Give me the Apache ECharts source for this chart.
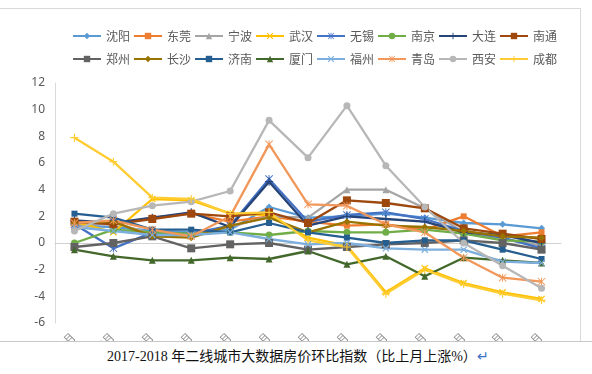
<!DOCTYPE html>
<html><head><meta charset="utf-8">
<script src="https://cdn.jsdelivr.net/npm/echarts@6/dist/echarts.min.js"></script>
<style>
html,body{margin:0;padding:0;background:#fff;width:592px;height:374px;overflow:hidden;}
#chart{position:absolute;left:0;top:0;width:592px;height:341px;}
#line{position:absolute;left:0;top:341px;width:592px;height:1px;background:#c8c8c8;}
#cap{position:absolute;left:107px;top:345px;font-family:"Liberation Serif","Noto Sans CJK SC",serif;font-size:14px;color:#111;white-space:nowrap;}
#cap span{color:#3a6fc4;}
</style></head><body>
<div id="chart"></div>
<div id="line"></div>
<div id="cap">2017-2018 年二线城市大数据房价环比指数（比上月上涨%）<span>↵</span></div>
<script>
const categories = ['2017年6月','2017年7月','2017年8月','2017年9月','2017年10月','2017年11月','2017年12月','2018年1月','2018年2月','2018年3月','2018年4月','2018年5月','2018年6月'];
const cityNames = ['沈阳','东莞','宁波','武汉','无锡','南京','大连','南通','郑州','长沙','济南','厦门','福州','青岛','西安','成都'];
const yTicks = {min:-6, max:12, interval:2};

const shenyang = [1.3, 1.2, 0.9, 0.8, 1.0, 2.7, 1.9, 2.0, 2.2, 1.9, 1.5, 1.4, 1.1];
const dongguan = [1.5, 1.4, 1.9, 2.2, 1.6, 2.0, 1.6, 1.3, 1.4, 1.0, 2.0, 0.5, 0.8];
const ningbo = [1.3, 1.5, 0.7, 0.7, 1.2, 2.0, 1.9, 4.0, 4.0, 2.6, 0.8, 0.3, -0.2];
const wuhan = [1.6, 0.8, 3.3, 3.2, 2.2, 2.1, 0.4, -0.2, -3.7, -1.9, -3.0, -3.7, -4.2];
const wuxi = [1.4, -0.4, 0.8, 0.7, 1.3, 4.8, 1.6, 2.1, 2.3, 1.8, 0.9, 0.4, -0.4];
const nanjing = [0.0, 1.0, 0.8, 0.7, 0.8, 0.6, 0.9, 0.8, 0.8, 1.0, 0.7, 0.2, 0.1];
const dalian = [1.7, 1.5, 1.9, 2.3, 1.2, 4.6, 1.3, 2.0, 1.8, 1.6, 0.8, 0.6, 0.0];
const nantong = [1.6, 1.4, 1.8, 2.2, 2.0, 2.3, 1.5, 3.2, 3.0, 2.6, 1.1, 0.7, 0.3];
const zhengzhou = [-0.3, 0.0, 0.5, -0.4, -0.1, 0.0, -0.5, -0.3, -0.1, 0.0, 0.2, 0.0, -0.5];
const changsha = [1.5, 1.6, 0.5, 0.4, 1.3, 1.9, 0.8, 1.6, 1.3, 1.2, 0.9, 0.5, 0.4];
const jinan = [2.2, 1.9, 1.0, 1.0, 0.8, 1.5, 0.8, 0.4, 0.0, 0.2, 0.2, -0.5, -1.2];
const xiamen = [-0.5, -1.0, -1.3, -1.3, -1.1, -1.2, -0.6, -1.6, -1.0, -2.5, -1.1, -1.3, -1.5];
const fuzhou = [1.2, 0.9, 0.6, 0.6, 0.8, 0.3, -0.1, 0.0, -0.4, -0.5, -0.5, -1.4, -1.5];
const qingdao = [1.5, 1.7, 1.0, 0.5, 2.0, 7.4, 2.9, 2.8, 1.4, 0.8, -1.1, -2.6, -2.9];
const xian = [0.9, 2.2, 2.8, 3.1, 3.9, 9.2, 6.4, 10.3, 5.8, 2.7, 0.0, -1.7, -3.4];
const chengdu = [7.9, 6.1, 3.4, 3.3, 2.2, 2.3, 0.2, -0.3, -3.8, -2.0, -3.1, -3.8, -4.3];

const seriesValues = [shenyang, dongguan, ningbo, wuhan, wuxi, nanjing, dalian, nantong, zhengzhou, changsha, jinan, xiamen, fuzhou, qingdao, xian, chengdu];

const colors = ['#5B9BD5','#ED7D31','#A5A5A5','#FFC000','#4472C4','#70AD47','#264478','#9E480E','#636363','#997300','#255E91','#43682B','#7CAFDD','#F1975A','#B7B7B7','#FFCD33'];
const P_X = 'path://M0,1.2L1.2,0L5,3.8L8.8,0L10,1.2L6.2,5L10,8.8L8.8,10L5,6.2L1.2,10L0,8.8L3.8,5Z';
const P_STAR = 'path://M4.4,0H5.6V10H4.4Z M0.8,0L10,9.2L9.2,10L0,0.8Z M9.2,0L10,0.8L0.8,10L0,9.2Z';
const P_PLUS = 'path://M4.3,0H5.7V4.3H10V5.7H5.7V10H4.3V5.7H0V4.3H4.3Z';
const P_DASH = 'path://M0,4H10V6H0Z';
const symbols = ['diamond','rect','triangle',P_X,P_STAR,'circle',P_PLUS,P_DASH,P_DASH,'diamond','rect','triangle',P_X,P_STAR,'circle',P_PLUS];
const sizes = [7,6,7,7,8,7,8,8,8,7,6,7,7,8,7,8];

const chart = echarts.init(document.getElementById('chart'), null, {renderer:'canvas'});
const series = cityNames.map((n,i)=>({
  name:n, type:'line', data:seriesValues[i], symbol:symbols[i], symbolSize:sizes[i],
  showAllSymbol:true,
  lineStyle:{width:2.3,color:colors[i]}, itemStyle:{color:colors[i]},
  emphasis:{disabled:true}, animation:false
}));
const legendBase = {
  orient:'horizontal', itemWidth:28, itemHeight:8, itemGap:3,
  textStyle:{color:'#595959',fontSize:12,fontFamily:'"Noto Sans CJK SC"'},
  selectedMode:false
};
chart.setOption({
  animation:false,
  color:colors,
  legend:[
    Object.assign({left:67, top:25, data:cityNames.slice(0,8)}, legendBase),
    Object.assign({left:67, top:48, data:cityNames.slice(8)}, legendBase)
  ],
  grid:{left:55, right:31, top:83, bottom:18, containLabel:false, outerBoundsMode:'none'},
  xAxis:{type:'category', data:categories, boundaryGap:true,
    axisLine:{lineStyle:{color:'#d0d0d0',width:1}}, axisTick:{show:false},
    axisLabel:{rotate:45, margin:12, color:'#8c8c8c', fontSize:12, interval:0}},
  yAxis:{type:'value', min:yTicks.min, max:yTicks.max, interval:yTicks.interval,
    axisLine:{show:true,lineStyle:{color:'#d9d9d9'}}, axisTick:{show:false}, splitLine:{show:false},
    axisLabel:{color:'#595959', fontSize:12, margin:10, fontFamily:'"Noto Sans"'}},
  graphic:[
    {type:'line', shape:{x1:0,y1:8.5,x2:580.5,y2:8.5}, style:{stroke:'#d9d9d9',lineWidth:1}},
    {type:'line', shape:{x1:580.5,y1:8.5,x2:580.5,y2:341}, style:{stroke:'#d9d9d9',lineWidth:1}}
  ],
  series:series
});
</script>
</body></html>
